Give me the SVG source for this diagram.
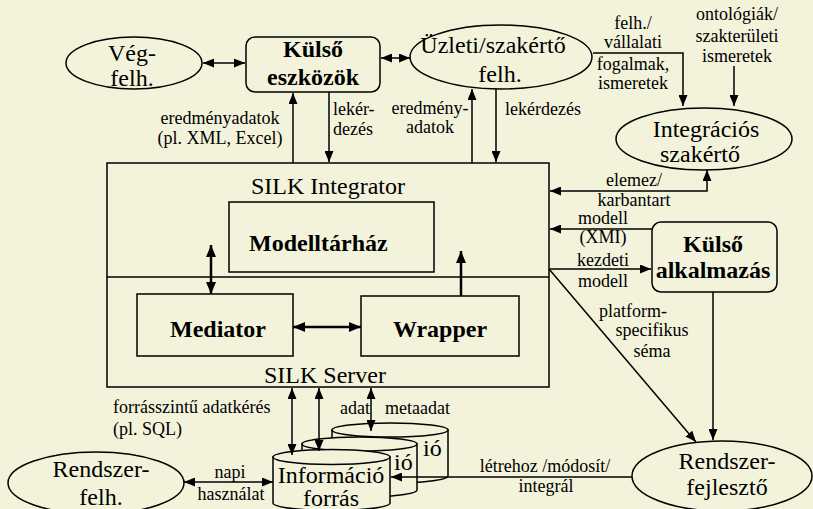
<svg xmlns="http://www.w3.org/2000/svg" width="813" height="509" viewBox="0 0 813 509">
<defs>
<marker id="ah" markerUnits="userSpaceOnUse" markerWidth="11" markerHeight="9" refX="11" refY="4.5" orient="auto-start-reverse"><path d="M0,0 L11,4.5 L0,9 z" fill="#000"/></marker>
<marker id="ahb" markerUnits="userSpaceOnUse" markerWidth="12" markerHeight="10" refX="12" refY="5" orient="auto-start-reverse"><path d="M0,0 L12,5 L0,10 z" fill="#000"/></marker>
<style>
.s{fill:#F3F3DB;stroke:#000;stroke-width:1.5}
.t{font-family:"Liberation Serif","Times New Roman",serif;font-size:24px;fill:#000}
.b{font-family:"Liberation Serif","Times New Roman",serif;font-size:24px;font-weight:bold;fill:#000}
.l{font-family:"Liberation Serif","Times New Roman",serif;font-size:18px;fill:#000}
.m{text-anchor:middle}
.e{text-anchor:end}
.c{fill:none;stroke:#000;stroke-width:1.5}
.k{fill:none;stroke:#000;stroke-width:2.5}
</style>
</defs>
<rect width="813" height="509" fill="#F3F3DB"/>

<g id="silk">
<rect class="s" x="107" y="163" width="442" height="224"/>
<line x1="107" y1="277" x2="549" y2="277" stroke="#000" stroke-width="1.5"/>
<text class="t m" x="328" y="194">SILK Integrator</text>
<text class="t m" x="325" y="383">SILK Server</text>
</g>
<g id="modelltarhaz">
<rect class="s" x="229" y="202" width="205" height="70"/>
<text class="b" x="249" y="251">Modelltárház</text>
</g>
<g id="mediator">
<rect class="s" x="137" y="294" width="156" height="62"/>
<text class="b m" x="218" y="337">Mediator</text>
</g>
<g id="wrapper">
<rect class="s" x="361" y="296" width="158" height="60"/>
<text class="b m" x="440" y="337">Wrapper</text>
</g>

<g id="vegfelh">
<ellipse class="s" cx="134" cy="63" rx="68" ry="26"/>
<text class="t m" x="132" y="61">Vég-</text>
<text class="t m" x="132" y="86">felh.</text>
</g>
<g id="kulso-eszkozok">
<rect class="s" x="246" y="37" width="134" height="55" rx="9"/>
<text class="b m" x="313" y="57">Külső</text>
<text class="b m" x="313" y="85">eszközök</text>
</g>
<g id="uzleti">
<ellipse class="s" cx="501" cy="57" rx="91" ry="32"/>
<text class="t m" x="493" y="53">Üzleti/szakértő</text>
<text class="t m" x="500" y="82">felh.</text>
</g>
<g id="integracios">
<ellipse class="s" cx="704" cy="139" rx="88" ry="31"/>
<text class="t m" x="706" y="137">Integrációs</text>
<text class="t m" x="700" y="162">szakértő</text>
</g>
<g id="kulso-alkalmazas">
<rect class="s" x="652" y="222" width="125" height="70" rx="9"/>
<text class="b m" x="713" y="252">Külső</text>
<text class="b m" x="713" y="278">alkalmazás</text>
</g>
<g id="rendszerfejleszto">
<ellipse class="s" cx="722" cy="476" rx="90" ry="35"/>
<text class="t m" x="727" y="469">Rendszer-</text>
<text class="t m" x="727" y="495">fejlesztő</text>
</g>
<g id="rendszerfelh">
<ellipse class="s" cx="96" cy="483" rx="88" ry="31"/>
<text class="t m" x="101" y="477">Rendszer-</text>
<text class="t m" x="101" y="505">felh.</text>
</g>
<g id="forras">
<path class="s" d="M332,430 L332,476 A58,7 0 0 0 448,476 L448,430 Z"/>
<ellipse class="s" cx="390" cy="430" rx="58" ry="7"/>
<text class="t" x="423" y="456">ió</text>
<path class="s" d="M302,444 L302,490 A57.5,7 0 0 0 417,490 L417,444 Z"/>
<ellipse class="s" cx="359.5" cy="444" rx="57.5" ry="7"/>
<text class="t" x="394" y="470">ió</text>
<path class="s" d="M273,457 L273,503 A58.5,7.5 0 0 0 390,503 L390,457 Z"/>
<ellipse class="s" cx="331.5" cy="457" rx="58.5" ry="7.5"/>
<text class="t m" x="331" y="483">Információ</text>
<text class="t m" x="331" y="506">forrás</text>
</g>

<g id="connectors">
<path class="c" d="M203,63 H245" marker-start="url(#ah)" marker-end="url(#ah)"/>
<path class="c" d="M381,58 H410" marker-start="url(#ah)" marker-end="url(#ah)"/>
<path class="c" d="M293,163 V93" marker-end="url(#ah)"/>
<path class="c" d="M329,92 V162" marker-end="url(#ah)"/>
<path class="c" d="M472,163 V89" marker-end="url(#ah)"/>
<path class="c" d="M496,89 V162" marker-end="url(#ah)"/>
<path class="c" d="M593,53 H683 V106" marker-end="url(#ah)"/>
<path class="c" d="M734,66 V106" marker-end="url(#ah)"/>
<path class="c" d="M707,170 V191 H550" marker-start="url(#ah)" marker-end="url(#ah)"/>
<path class="c" d="M652,229 H550" marker-end="url(#ah)"/>
<path class="c" d="M549,269 H651" marker-end="url(#ah)"/>
<path class="c" d="M549,269 L696,442" marker-end="url(#ah)"/>
<path class="c" d="M713,292 V440" marker-end="url(#ah)"/>
<path class="c" d="M632,477 H391" marker-end="url(#ah)"/>
<path class="c" d="M184,482 H273" marker-start="url(#ah)" marker-end="url(#ah)"/>
<path class="c" d="M292,388 V455" marker-start="url(#ah)" marker-end="url(#ah)"/>
<path class="c" d="M319,388 V451" marker-start="url(#ah)" marker-end="url(#ah)"/>
<path class="c" d="M371,388 V431" marker-start="url(#ah)" marker-end="url(#ah)"/>
<path class="k" d="M211,245 V294" marker-start="url(#ahb)" marker-end="url(#ahb)"/>
<path class="k" d="M293,327 H361" marker-start="url(#ahb)" marker-end="url(#ahb)"/>
<path class="k" d="M461,296 V251" marker-end="url(#ahb)"/>
</g>

<g id="labels">
<text class="l m" x="220" y="124">eredményadatok</text>
<text class="l m" x="220" y="144">(pl. XML, Excel)</text>
<text class="l" x="333" y="115">lekér-</text>
<text class="l" x="333" y="135">dezés</text>
<text class="l m" x="430" y="114">eredmény-</text>
<text class="l m" x="430" y="133">adatok</text>
<text class="l" x="505" y="115">lekérdezés</text>
<text class="l m" x="633" y="29">felh./</text>
<text class="l m" x="633" y="48">vállalati</text>
<text class="l m" x="633" y="70">fogalmak,</text>
<text class="l m" x="633" y="89">ismeretek</text>
<text class="l m" x="737" y="20">ontológiák/</text>
<text class="l m" x="737" y="42">szakterületi</text>
<text class="l m" x="737" y="62">ismeretek</text>
<text class="l m" x="634" y="186">elemez/</text>
<text class="l m" x="634" y="206">karbantart</text>
<text class="l m" x="603" y="224">modell</text>
<text class="l m" x="603" y="243">(XMI)</text>
<text class="l m" x="603" y="266">kezdeti</text>
<text class="l m" x="603" y="287">modell</text>
<text class="l m" x="633" y="317">platform-</text>
<text class="l m" x="652" y="336">specifikus</text>
<text class="l m" x="652" y="357">séma</text>
<text class="l" x="113" y="413">forrásszintű adatkérés</text>
<text class="l" x="113" y="435">(pl. SQL)</text>
<text class="l" x="340" y="414">adat</text>
<text class="l" x="385" y="414">metaadat</text>
<text class="l m" x="230" y="478">napi</text>
<text class="l m" x="231" y="500">használat</text>
<text class="l m" x="545" y="472">létrehoz /módosít/</text>
<text class="l m" x="546" y="492">integrál</text>
</g>
</svg>
